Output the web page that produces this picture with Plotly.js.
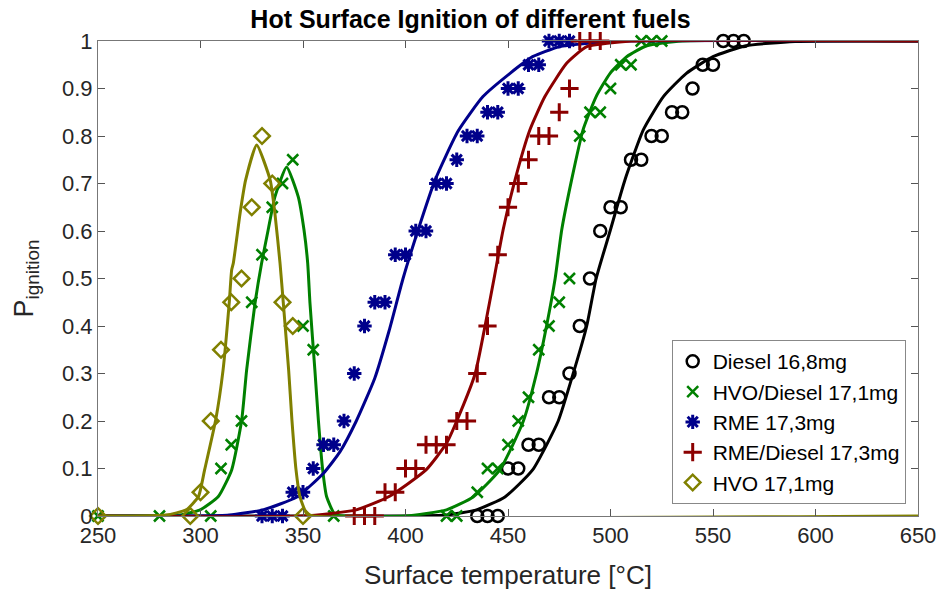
<!DOCTYPE html>
<html>
<head>
<meta charset="utf-8">
<script src="https://cdn.plot.ly/plotly-3.0.1.min.js"></script>
<style>
html,body{margin:0;padding:0;background:#fff;}
#chart{width:941px;height:591px;}
</style>
</head>
<body>
<div id="chart"></div>
<script>
// ---- measured data points ----
const dieselX = [435,440,445,450,455,460,465,470,475,480,485,490,495,500,505,510,515,520,525,530,535,540,545,550,555,560,565];
const dieselY = [0,0,0,0.1,0.1,0.15,0.15,0.25,0.25,0.3,0.4,0.5,0.6,0.65,0.65,0.75,0.75,0.8,0.8,0.85,0.85,0.9,0.95,0.95,1,1,1];

const hvoDieselX = [250,280,305,310,315,320,325,330,335,340,345,350,355,360,365,420,425,435,440,445,450,455,460,465,470,475,480,485,490,495,500,505,510,515,520,525];
const hvoDieselY = [0,0,0,0.1,0.15,0.2,0.45,0.55,0.65,0.7,0.75,0.4,0.35,0.15,0,0,0,0.05,0.1,0.1,0.15,0.2,0.25,0.35,0.4,0.45,0.5,0.8,0.85,0.85,0.9,0.95,0.95,1,1,1];

const rmeX = [330,335,340,345,350,355,360,365,370,375,380,385,390,395,400,405,410,415,420,425,430,435,440,445,450,455,460,465,470,475,480];
const rmeY = [0,0,0,0.05,0.05,0.1,0.15,0.15,0.2,0.3,0.4,0.45,0.45,0.55,0.55,0.6,0.6,0.7,0.7,0.75,0.8,0.8,0.85,0.85,0.9,0.9,0.95,0.95,1,1,1];

const rmeDieselX = [375,380,385,390,395,400,405,410,415,420,425,430,435,440,445,450,455,460,465,470,475,480,485,490,495];
const rmeDieselY = [0,0,0,0.05,0.05,0.1,0.1,0.15,0.15,0.15,0.2,0.2,0.3,0.4,0.55,0.65,0.7,0.75,0.8,0.8,0.85,0.9,1,1,1];

const hvoX = [250,295,300,305,310,315,320,325,330,335,340,345,350];
const hvoY = [0,0,0.05,0.2,0.35,0.45,0.5,0.65,0.8,0.7,0.45,0.4,0];

// ---- fitted curves ----
const dieselFitX = [250,400,420,434.7,448.5,462,474.5,481.8,488.4,493,499.8,507,516,525.8,537,550,566,590,650];
const dieselFitY = [0,0,0.002,0.013,0.04,0.097,0.2,0.3,0.4,0.5,0.6,0.707,0.813,0.883,0.932,0.967,0.99,0.999,1];

const hvoDieselFitX = [250,280,290,299.8,308.7,315.2,320.1,322.5,326.6,329.8,333,336.3,342,347.7,350.5,352.3,353.4,355.8,357.5,359.6,361.5,365.6,370,400,420,433,446,457.5,463.9,468.8,473,476.2,481,486.6,493,499.8,507.9,517.6,535,650];
const hvoDieselFitY = [0,0,0.002,0.013,0.041,0.097,0.202,0.307,0.448,0.532,0.602,0.672,0.735,0.672,0.602,0.532,0.448,0.307,0.202,0.097,0.041,0.003,0,0,0.013,0.04,0.097,0.2,0.3,0.4,0.5,0.602,0.707,0.813,0.883,0.932,0.967,0.99,1,1];

const rmeFitX = [250,300,314,330.5,347,360,368,376,385,392,398.8,406,414.4,425.6,437.8,451,462,475,500,650];
const rmeFitY = [0,0,0.002,0.013,0.04,0.09,0.135,0.2,0.29,0.39,0.5,0.6,0.707,0.81,0.883,0.932,0.967,0.988,0.999,1];

const rmeDieselFitX = [250,350,376,392,410,420,425,434,438.8,443.2,447.6,453.4,460.7,468,478.6,488.4,510,650];
const rmeDieselFitY = [0,0,0.013,0.041,0.097,0.153,0.2,0.3,0.4,0.5,0.602,0.707,0.813,0.883,0.953,0.988,1,1];

const hvoFitX = [250,283,293,299,302,307.4,311,314,315.2,316,319.3,322,327.4,334,336.3,338.8,340.4,343,344.6,346.6,348.5,351.8,355,650];
const hvoFitY = [0,0.002,0.013,0.041,0.097,0.202,0.307,0.448,0.518,0.532,0.637,0.707,0.781,0.707,0.637,0.532,0.448,0.307,0.202,0.097,0.041,0.005,0,0];

const names = ['Diesel 16,8mg','HVO/Diesel 17,1mg','RME 17,3mg','RME/Diesel 17,3mg','HVO 17,1mg'];
const colors = ['#000000','#008000','#00008b','#8b0000','#808000'];
const symbols = ['circle-open','x-thin-open','asterisk-open','cross-thin-open','diamond-open'];
const sizes = [12,11,12,13,12];
const widths = [2.5,2.5,3,3,2.5];

const pts = [[dieselX,dieselY],[hvoDieselX,hvoDieselY],[rmeX,rmeY],[rmeDieselX,rmeDieselY],[hvoX,hvoY]];
const fits = [[dieselFitX,dieselFitY],[hvoDieselFitX,hvoDieselFitY],[rmeFitX,rmeFitY],[rmeDieselFitX,rmeDieselFitY],[hvoFitX,hvoFitY]];

const traces = [];
for (let i = 0; i < 5; i++) {
  traces.push({
    x: pts[i][0], y: pts[i][1], type: 'scatter', mode: 'markers', name: names[i],
    legendgroup: 'g' + i, cliponaxis: false,
    marker: {symbol: symbols[i], size: sizes[i], color: colors[i], line: {color: colors[i], width: widths[i]}}
  });
  traces.push({
    x: fits[i][0], y: fits[i][1], type: 'scatter', mode: 'lines', showlegend: false,
    legendgroup: 'g' + i, hoverinfo: 'skip',
    line: {color: colors[i], width: 3, shape: 'spline', smoothing: 0.5}
  });
}

const font = 'Liberation Sans, Arial, sans-serif';
const layout = {
  width: 941, height: 591,
  margin: {l: 98, r: 23, t: 41, b: 75},
  paper_bgcolor: '#fff', plot_bgcolor: '#fff',
  font: {family: font, color: '#262626', size: 22},
  title: {text: '<b>Hot Surface Ignition of different fuels</b>', font: {family: font, size: 25, color: '#000'}, x: 0.5, xanchor: 'center', y: 0.968, yanchor: 'middle'},
  xaxis: {
    range: [250, 650], dtick: 50, tick0: 250, showgrid: false, zeroline: false,
    showline: true, linecolor: '#777', linewidth: 1, mirror: 'ticks',
    ticks: 'inside', ticklen: 7, tickcolor: '#555',
    tickfont: {size: 22, color: '#262626'},
    title: {text: 'Surface temperature [°C]', font: {size: 26, color: '#262626'}, standoff: 18}
  },
  yaxis: {
    range: [0, 1], dtick: 0.1, tick0: 0, showgrid: false, zeroline: false,
    showline: true, linecolor: '#777', linewidth: 1, mirror: 'ticks',
    ticks: 'inside', ticklen: 7, tickcolor: '#555',
    tickfont: {size: 22, color: '#262626'},
    title: {text: 'P<sub>ignition</sub>', font: {size: 27, color: '#262626'}, standoff: 20}
  },
  legend: {
    x: 0.985, xanchor: 'right', y: 0.025, yanchor: 'bottom',
    bgcolor: '#fff', bordercolor: '#888', borderwidth: 1,
    font: {size: 21, color: '#000'}, tracegroupgap: 0, itemwidth: 30
  },
  showlegend: true
};

Plotly.newPlot('chart', traces, layout, {displayModeBar: false, staticPlot: true});
</script>
</body>
</html>
